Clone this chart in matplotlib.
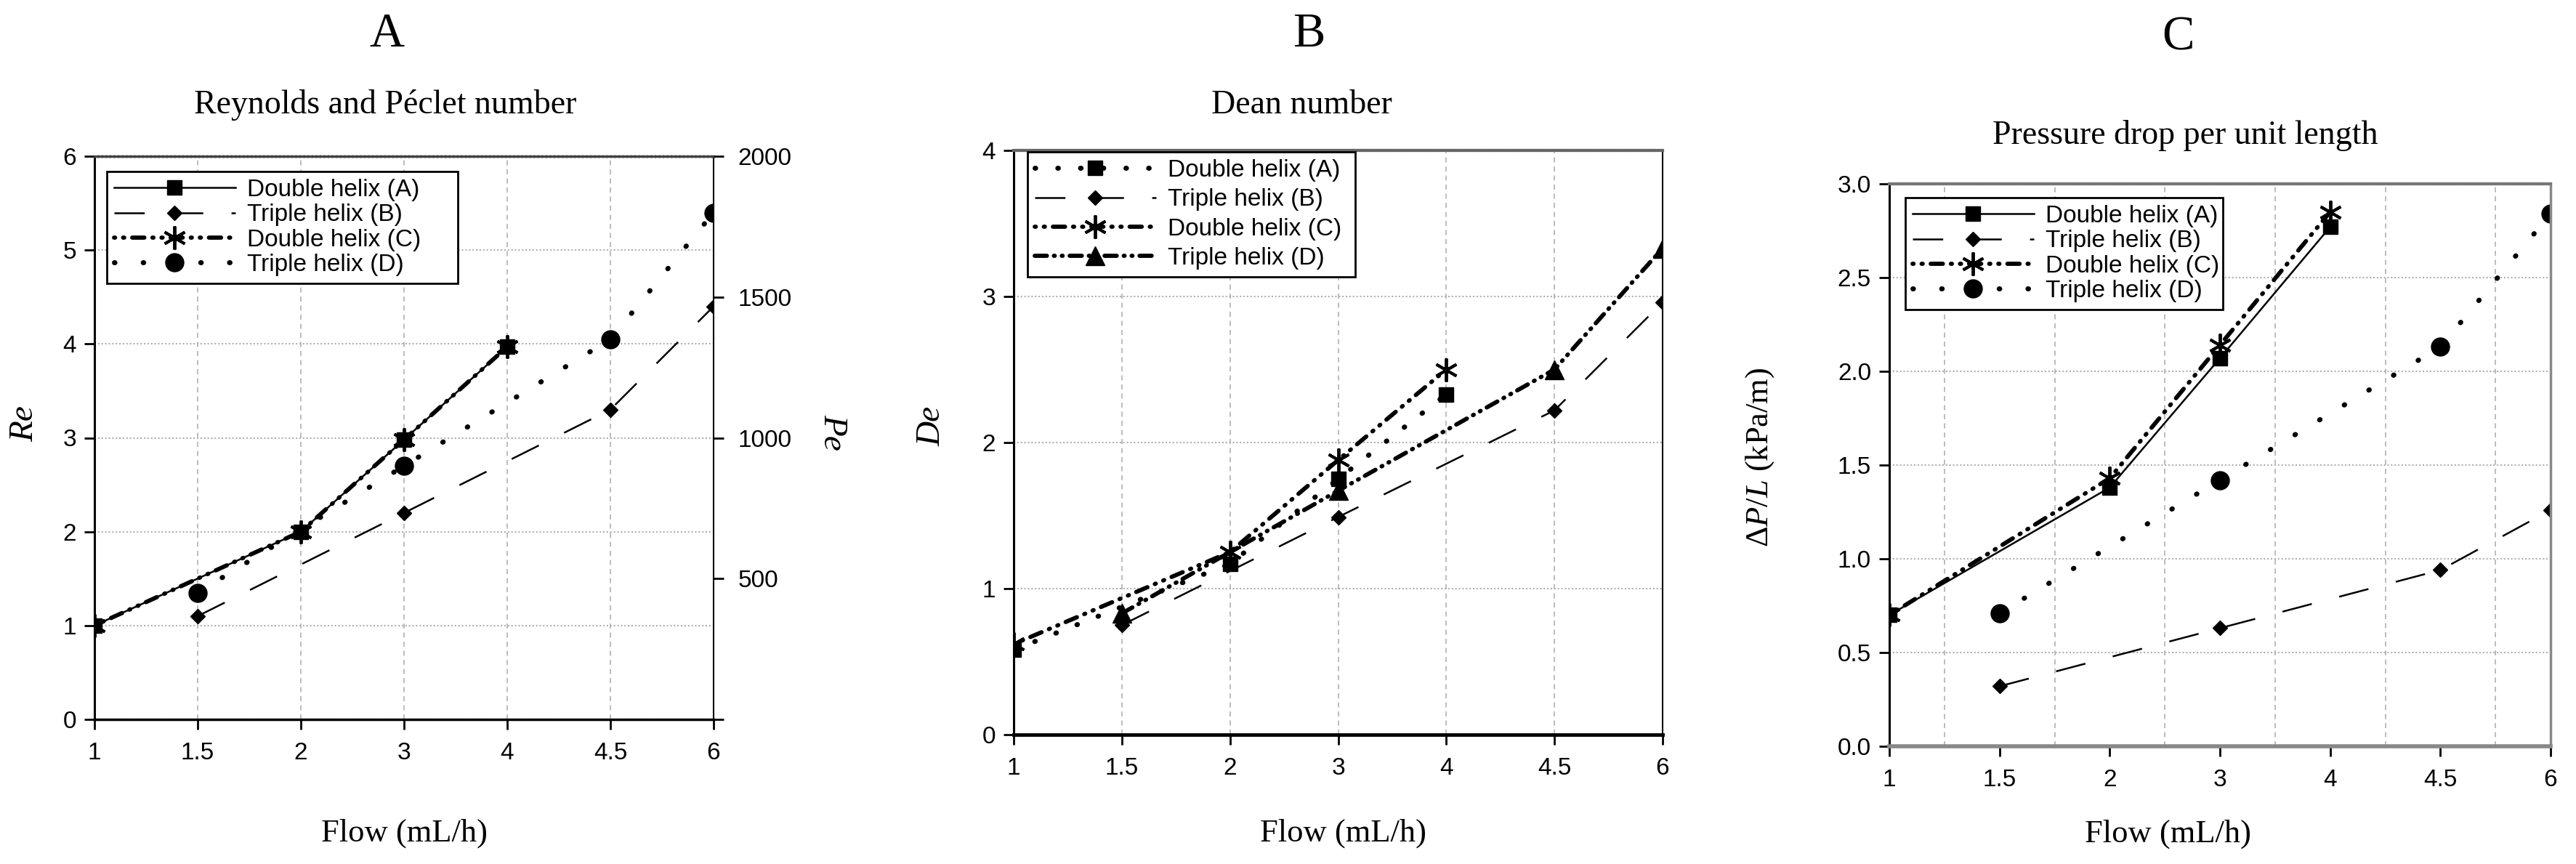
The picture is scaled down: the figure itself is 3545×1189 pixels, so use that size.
import matplotlib
matplotlib.use("Agg")
import matplotlib.pyplot as plt

# ---------------- data ----------------
flow_labels = ["1", "1.5", "2", "3", "4", "4.5", "6"]
double_flows = ["1", "2", "3", "4"]
triple_flows = ["1.5", "3", "4.5", "6"]
series_names = ["Double helix (A)", "Triple helix (B)", "Double helix (C)", "Triple helix (D)"]

re_double_A = [1.0, 2.0, 2.98, 3.97]
re_triple_B = [1.1, 2.2, 3.3, 4.4]
re_double_C = [1.0, 2.0, 2.98, 3.97]
re_triple_D = [1.35, 2.7, 4.05, 5.4]

de_double_A = [0.58, 1.17, 1.75, 2.33]
de_triple_B = [0.75, 1.49, 2.22, 2.96]
de_double_C = [0.62, 1.25, 1.88, 2.5]
de_triple_D = [0.83, 1.67, 2.5, 3.33]

dp_double_A = [0.70, 1.38, 2.07, 2.77]
dp_triple_B = [0.32, 0.63, 0.94, 1.26]
dp_double_C = [0.70, 1.43, 2.14, 2.85]
dp_triple_D = [0.71, 1.42, 2.13, 2.84]

re_ticks = [0, 1, 2, 3, 4, 5, 6]
pe_ticks = [0, 500, 1000, 1500, 2000]
pe_labels = ["", "500", "1000", "1500", "2000"]
de_ticks = [0, 1, 2, 3, 4]
dp_ticks = [0.0, 0.5, 1.0, 1.5, 2.0, 2.5, 3.0]

# ---------------- style ----------------
plt.rcParams['font.family'] = ['Liberation Sans', 'DejaVu Sans']
plt.rcParams['lines.scale_dashes'] = False
plt.rcParams['mathtext.fontset'] = 'custom'
plt.rcParams['mathtext.rm'] = 'Liberation Serif'
plt.rcParams['mathtext.it'] = 'Liberation Serif:italic'
SERIF = ['Liberation Serif', 'DejaVu Serif']

W, H = 3545, 1189
fig = plt.figure(figsize=(W / 100, H / 100), dpi=100)


def box(l, t, r, b):
    return [l / W, 1 - b / H, (r - l) / W, (b - t) / H]


axA = fig.add_axes(box(130, 215, 982, 990))
axB = fig.add_axes(box(1395, 207, 2288, 1011))
axC = fig.add_axes(box(2600, 253, 3510, 1027))

pos = {f: i for i, f in enumerate(flow_labels)}
xd = [pos[f] for f in double_flows]
xt = [pos[f] for f in triple_flows]

solid = dict(ls='-', lw=1.8)
longdash = dict(ls=(0, (30, 28)), lw=1.8)
dotdash = dict(ls=(0, (1.0, 8, 1.0, 8, 12, 8)), lw=4.2, dash_capstyle='round')
sparsedot = dict(ls=(0, (0.5, 28)), lw=5, dash_capstyle='round')
dashdotdot = dict(ls=(0, (12, 7, 0.8, 7, 0.8, 7)), lw=4.2, dash_capstyle='round')

m_sq = dict(marker='s', ms=14)
m_di = dict(marker='D', ms=10.5)
m_st = dict(marker=(6, 2, 0), ms=23, mew=2.8)
m_ci = dict(marker='o', ms=18)
m_tr = dict(marker='^', ms=19)


def draw(ax, xs, ys, name, st, mk):
    ax.plot(xs, ys, color='black', label=name, mfc='black', mec='black', **st, **mk)


# Panel A
draw(axA, xd, re_double_A, series_names[0], solid, m_sq)
draw(axA, xt, re_triple_B, series_names[1], longdash, m_di)
draw(axA, xd, re_double_C, series_names[2], dotdash, m_st)
draw(axA, xt, re_triple_D, series_names[3], sparsedot, m_ci)

# Panel B
draw(axB, xd, de_double_A, series_names[0], dict(ls=(0, (0.5, 22)), lw=5, dash_capstyle='round'), m_sq)
draw(axB, xt, de_triple_B, series_names[1], longdash, m_di)
draw(axB, xd, de_double_C, series_names[2], dotdash, m_st)
draw(axB, xt, de_triple_D, series_names[3], dashdotdot, m_tr)

# Panel C
draw(axC, xd, dp_double_A, series_names[0], solid, m_sq)
draw(axC, xt, dp_triple_B, series_names[1], longdash, m_di)
draw(axC, xd, dp_double_C, series_names[2], dotdash, m_st)
draw(axC, xt, dp_triple_D, series_names[3], sparsedot, m_ci)

grid_col = '#b0b0b0'
for ax in (axA, axB, axC):
    ax.set_xlim(0, 6)
    ax.set_xticks(range(len(flow_labels)))
    ax.set_xticklabels(flow_labels)
    ax.tick_params(axis='both', which='major', direction='out', length=10, width=2,
                   labelsize=24, pad=8)
    ax.tick_params(axis='x', pad=12)
    ax.set_axisbelow(True)
    ax.spines['left'].set_linewidth(2.2)
    ax.spines['bottom'].set_linewidth(2.5)

axA.set_ylim(0, 6)
axA.set_yticks(re_ticks)
axB.set_ylim(0, 4)
axB.set_yticks(de_ticks)
axC.set_ylim(0, 3)
axC.set_yticks(dp_ticks)
axC.set_yticklabels([f"{v:.1f}" for v in dp_ticks])

for ax in (axA, axB):
    ax.grid(axis='x', which='major', ls=(0, (5, 4)), color=grid_col, lw=1.2)
    ax.grid(axis='y', which='major', ls=(0, (1.5, 2)), color=grid_col, lw=1.5)

axC.set_xticks([i + 0.5 for i in range(6)], minor=True)
axC.tick_params(axis='x', which='minor', length=0)
axC.grid(axis='x', which='minor', ls=(0, (5, 4)), color=grid_col, lw=1.2)
axC.grid(axis='y', which='major', ls=(0, (1.5, 2)), color=grid_col, lw=1.5)

# spines
axA.spines['top'].set_linestyle((0, (3, 1)))
axA.spines['top'].set_color('#444444')
axA.spines['top'].set_linewidth(2.5)
axA.spines['right'].set_linestyle((0, (3, 1.5)))
axA.spines['right'].set_linewidth(1.5)

axB.spines['top'].set_linestyle((0, (2, 1)))
axB.spines['top'].set_color('#666666')
axB.spines['top'].set_linewidth(3)
axB.spines['right'].set_linewidth(1.5)
axB.spines['bottom'].set_linewidth(3.5)

axC.spines['top'].set_linestyle((0, (2, 1)))
axC.spines['top'].set_color('#777777')
axC.spines['top'].set_linewidth(3)
axC.spines['right'].set_color('#888888')
axC.spines['right'].set_linewidth(2.5)
axC.spines['bottom'].set_color('#888888')
axC.spines['bottom'].set_linewidth(4)

# Pe twin axis
axP = axA.twinx()
axP.set_ylim(0, 2000)
axP.set_yticks(pe_ticks)
axP.set_yticklabels(pe_labels)
axP.tick_params(axis='y', direction='out', length=10, width=2, labelsize=24, pad=14)
for s in axP.spines.values():
    s.set_visible(False)

# legends
leg_kw = dict(loc='upper left', mode='expand', fontsize=24, handlelength=5.0,
              handletextpad=0.5, borderpad=0.3, frameon=True, fancybox=False,
              edgecolor='black', framealpha=1, borderaxespad=0, numpoints=1)
legA = axA.legend(bbox_to_anchor=(0.020, 0.973, 0.567, 0), labelspacing=0.1, **leg_kw)
legB = axB.legend(bbox_to_anchor=(0.0213, 0.9975, 0.505, 0), labelspacing=0.28, **leg_kw)
legC = axC.legend(bbox_to_anchor=(0.0242, 0.9755, 0.480, 0), labelspacing=0.1, **leg_kw)
for lg in (legA, legB, legC):
    lg.get_frame().set_linewidth(2)

# texts


def ftext(x, y, s, **kw):
    fig.text(x / W, 1 - y / H, s, ha='center', va='center', **kw)


ftext(532, 47, "A", fontsize=48, family=SERIF)
ftext(1801, 47, "B", fontsize=48, family=SERIF)
ftext(2997, 52, "C", fontsize=48, family=SERIF)

ftext(530, 145, "Reynolds and Péclet number", fontsize=33, family=SERIF)
ftext(1791, 145, "Dean number", fontsize=33, family=SERIF)
ftext(3007, 187, "Pressure drop per unit length", fontsize=33, family=SERIF)

ftext(556, 1147, "Flow (mL/h)", fontsize=32, family=SERIF)
ftext(1848, 1147, "Flow (mL/h)", fontsize=32, family=SERIF)
ftext(2983, 1148, "Flow (mL/h)", fontsize=32, family=SERIF)

ftext(34, 583, "Re", fontsize=34, family=SERIF, style='italic', rotation=90)
ftext(1145, 595, "Pe", fontsize=34, family=SERIF, style='italic', rotation=270)
ftext(1282, 586, "De", fontsize=34, family=SERIF, style='italic', rotation=90)
ftext(2422, 629, r"$\mathit{\Delta P/L}$ (kPa/m)", fontsize=32, family=SERIF, rotation=90)

fig.savefig("out.png", dpi=100)
